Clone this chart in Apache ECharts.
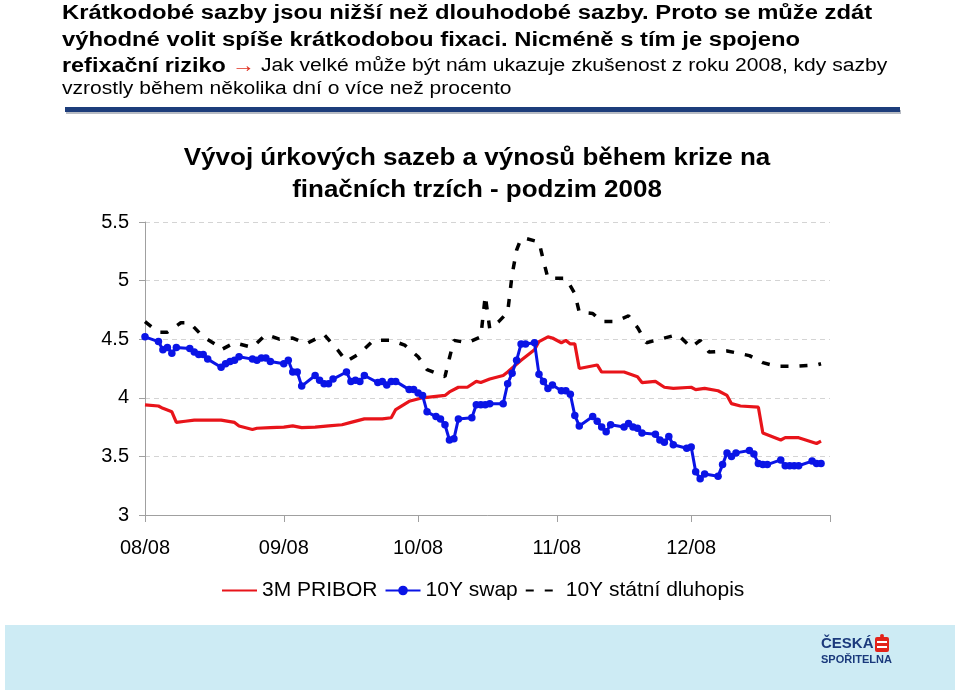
<!DOCTYPE html>
<html>
<head>
<meta charset="utf-8">
<script src="https://cdn.jsdelivr.net/npm/echarts@6/dist/echarts.min.js"></script>
<style>
  html, body { margin: 0; padding: 0; background: #ffffff; }
  #chart { width: 960px; height: 698px; }
</style>
</head>
<body>
<div id="chart"></div>
<script>
// ---------- data ----------
const YEAR = '2008-';
const xTickDates = ['2008-08-01', '2008-09-01', '2008-10-01', '2008-11-01', '2008-12-01', '2009-01-01'];
const xLabelDates = ['2008-08-01', '2008-09-01', '2008-10-01', '2008-11-01', '2008-12-01'];
const xLabels = ['08/08', '09/08', '10/08', '11/08', '12/08'];

const priborDates = ['08-01','08-04','08-05','08-07','08-08','08-10','08-12','08-18','08-21','08-22','08-25','08-26','08-29',
  '09-01','09-03','09-05','09-08','09-11','09-14','09-16','09-19','09-23','09-25','09-26','09-29',
  '10-02','10-07','10-08','10-10','10-12','10-14','10-15','10-17','10-20','10-21','10-24','10-27','10-28','10-30','10-31',
  '11-02','11-03','11-04','11-05','11-06','11-10','11-11','11-16','11-19','11-20','11-23','11-25','11-27',
  '12-01','12-02','12-04','12-07','12-09','12-10','12-12','12-16','12-17','12-21','12-22','12-25','12-29','12-30'];
const priborValues = [3.94,3.93,3.91,3.88,3.79,3.80,3.81,3.81,3.79,3.76,3.73,3.74,3.745,
  3.75,3.76,3.745,3.75,3.76,3.77,3.79,3.82,3.82,3.83,3.90,3.97,
  4.00,4.02,4.05,4.09,4.09,4.14,4.13,4.16,4.19,4.22,4.32,4.41,4.48,4.52,4.51,
  4.47,4.49,4.46,4.46,4.25,4.28,4.22,4.22,4.18,4.13,4.14,4.09,4.08,
  4.09,4.07,4.08,4.06,4.02,3.95,3.93,3.92,3.70,3.64,3.66,3.66,3.61,3.63];

const swapDates = ['08-01','08-04','08-05','08-06','08-07','08-08','08-11','08-12','08-13','08-14','08-15','08-18','08-19','08-20','08-21','08-22','08-25','08-26','08-27','08-28','08-29',
  '09-01','09-02','09-03','09-04','09-05','09-08','09-09','09-10','09-11','09-12','09-15','09-16','09-17','09-18','09-19','09-22','09-23','09-24','09-25','09-26','09-29','09-30',
  '10-01','10-02','10-03','10-05','10-06','10-07','10-08','10-09','10-10','10-13','10-14','10-15','10-16','10-17','10-20','10-21','10-22','10-23','10-24','10-25','10-27','10-28','10-29','10-30','10-31',
  '11-02','11-03','11-04','11-05','11-06','11-09','11-10','11-11','11-12','11-13','11-16','11-17','11-18','11-19','11-20','11-23','11-24','11-25','11-26','11-27','11-30',
  '12-01','12-02','12-03','12-04','12-07','12-08','12-09','12-10','12-11','12-14','12-15','12-16','12-17','12-18','12-21','12-22','12-23','12-24','12-25','12-28','12-29','12-30'];
const swapValues = [4.52,4.48,4.41,4.43,4.38,4.43,4.42,4.39,4.37,4.37,4.33,4.26,4.29,4.31,4.32,4.35,4.33,4.32,4.34,4.34,4.31,
  4.29,4.32,4.22,4.22,4.10,4.19,4.15,4.12,4.12,4.16,4.22,4.14,4.15,4.14,4.19,4.13,4.14,4.11,4.14,4.14,4.07,4.07,
  4.04,4.02,3.88,3.84,3.82,3.77,3.64,3.65,3.82,3.83,3.94,3.94,3.94,3.95,3.95,4.12,4.21,4.32,4.46,4.46,4.47,4.20,4.14,4.08,4.11,
  4.06,4.06,4.03,3.85,3.76,3.84,3.80,3.75,3.71,3.77,3.75,3.78,3.75,3.74,3.70,3.69,3.64,3.62,3.67,3.60,3.57,
  3.58,3.37,3.31,3.35,3.33,3.43,3.53,3.50,3.53,3.55,3.52,3.44,3.43,3.43,3.47,3.42,3.42,3.42,3.42,3.46,3.44,3.44];

const bondDates = ['08-01','08-04','08-06','08-09','08-11','08-14','08-17','08-18','08-21','08-25','08-28','08-31',
  '09-03','09-06','09-10','09-13','09-15','09-18','09-21','09-25','09-28',
  '10-01','10-03','10-07','10-08','10-09','10-12','10-15','10-16','10-17','10-19','10-21','10-22','10-23','10-24','10-25','10-28','10-29','10-30',
  '11-03','11-05','11-06','11-09','11-11','11-14','11-17','11-19','11-21','11-24','11-28',
  '12-01','12-03','12-05','12-09','12-14','12-17','12-20','12-25','12-29','12-30'];
const bondValues = [4.65,4.56,4.56,4.64,4.64,4.52,4.45,4.41,4.47,4.43,4.54,4.50,
  4.51,4.46,4.54,4.41,4.31,4.38,4.49,4.49,4.45,
  4.35,4.24,4.18,4.34,4.49,4.47,4.52,4.87,4.59,4.65,4.73,5.05,5.26,5.36,5.36,5.33,5.17,5.02,
  5.02,4.89,4.73,4.72,4.65,4.65,4.70,4.60,4.47,4.50,4.54,
  4.43,4.49,4.39,4.40,4.36,4.30,4.27,4.27,4.28,4.29];

const seriesNames = ['3M PRIBOR', '10Y swap', '10Y státní dluhopis'];
const yTicks = { min: 3, max: 5.5, interval: 0.5 };

const headerLine1 = 'Krátkodobé sazby jsou nižší než dlouhodobé sazby. Proto se může zdát';
const headerLine2 = 'výhodné volit spíše krátkodobou fixaci. Nicméně s tím je spojeno';
const headerLine3a = 'refixační riziko';
const headerLine3b = 'Jak velké může být nám ukazuje zkušenost z roku 2008, kdy sazby';
const headerLine4 = 'vzrostly během několika dní o více než procento';
const chartTitle = 'Vývoj úrkových sazeb a výnosů během krize na\nfinačních trzích - podzim 2008';

// ---------- build ----------
function ts(d) { return Date.UTC(+d.slice(0, 4), +d.slice(5, 7) - 1, +d.slice(8, 10)); }
function pairs(dates, values) {
  return dates.map((d, i) => [ts(YEAR + d), values[i]]);
}
const labelMap = {};
xLabelDates.forEach((d, i) => { labelMap[ts(d)] = xLabels[i]; });

const FONT = '"Liberation Sans", Arial, sans-serif';
const chart = echarts.init(document.getElementById('chart'));

chart.setOption({
  animation: false,
  backgroundColor: '#ffffff',
  textStyle: { fontFamily: FONT },
  grid: { left: 145, right: 130, top: 222, bottom: 183 },
  xAxis: {
    type: 'value',
    min: ts(xTickDates[0]),
    max: ts(xTickDates[xTickDates.length - 1]),
    axisLine: { show: true, onZero: false, lineStyle: { color: '#a0a0a0', width: 1 } },
    axisTick: { show: true, length: 7, lineStyle: { color: '#a0a0a0' }, customValues: xTickDates.map(ts) },
    axisLabel: {
      customValues: xLabelDates.map(ts),
      fontSize: 20, color: '#000', fontFamily: FONT, margin: 23,
      formatter: function (v) { return labelMap[v] || ''; }
    },
    splitLine: { show: false }
  },
  yAxis: {
    type: 'value',
    min: yTicks.min, max: yTicks.max, interval: yTicks.interval,
    axisLine: { show: true, lineStyle: { color: '#a0a0a0', width: 1 } },
    axisTick: { show: true, length: 6, lineStyle: { color: '#a0a0a0' } },
    axisLabel: { fontSize: 20, color: '#000', fontFamily: FONT, margin: 16 },
    splitLine: { show: true, lineStyle: { color: '#d4d4d4', type: [5, 4], width: 1 } }
  },
  legend: {
    data: [
      { name: seriesNames[0], itemStyle: { opacity: 0 } },
      { name: seriesNames[1] },
      { name: seriesNames[2], itemStyle: { opacity: 0 } }
    ],
    left: 216, top: 575,
    itemWidth: 35, itemHeight: 12, itemGap: 7,
    textStyle: { fontSize: 21, color: '#000', fontFamily: FONT }
  },
  series: [
    {
      name: seriesNames[0], type: 'line', data: pairs(priborDates, priborValues),
      showSymbol: false, symbol: 'none',
      lineStyle: { color: '#e8141a', width: 3.2 }, itemStyle: { color: '#e8141a' }, z: 3
    },
    {
      name: seriesNames[1], type: 'line', data: pairs(swapDates, swapValues),
      symbol: 'circle', symbolSize: 7.5, showSymbol: true,
      lineStyle: { color: '#0a14e6', width: 3 }, itemStyle: { color: '#0a14e6' }, z: 4
    },
    {
      name: seriesNames[2], type: 'line', data: pairs(bondDates, bondValues),
      showSymbol: false, symbol: 'none',
      lineStyle: { color: '#000000', width: 3.5, type: [8, 11] }, itemStyle: { color: '#000' }, z: 2
    }
  ],
  graphic: [
    { type: 'text', x: 62, y: 3, scaleX: 1.19, style: { text: headerLine1, font: 'bold 20px ' + FONT, fill: '#000' } },
    { type: 'text', x: 62, y: 30, scaleX: 1.19, style: { text: headerLine2, font: 'bold 20px ' + FONT, fill: '#000' } },
    { type: 'text', x: 62, y: 56, scaleX: 1.17, style: {
        text: '{b|' + headerLine3a + '} {r|→} ' + headerLine3b,
        font: '18px ' + FONT, fill: '#000',
        rich: {
          b: { font: 'bold 20px ' + FONT, fill: '#000' },
          r: { font: 'bold 20px ' + FONT, fill: '#e03020' }
        }
      } },
    { type: 'text', x: 62, y: 80, scaleX: 1.17, style: { text: headerLine4, font: '18px ' + FONT, fill: '#000' } },
    { type: 'rect', shape: { x: 66, y: 110, width: 835, height: 4 }, style: { fill: '#b8bcc4' } },
    { type: 'rect', shape: { x: 65, y: 107, width: 835, height: 5 }, style: { fill: '#1d3d7b' } },
    { type: 'text', x: 477, y: 143, scaleX: 1.13, style: {
        text: chartTitle, font: 'bold 23px ' + FONT, fill: '#000', align: 'center', lineHeight: 32
      } },
    { type: 'rect', shape: { x: 5, y: 625, width: 950, height: 65 }, style: { fill: '#cdebf4' } },
    { type: 'text', x: 821, y: 636, style: { text: 'ČESKÁ', font: 'bold 15px ' + FONT, fill: '#1b3a7c' } },
    { type: 'rect', shape: { x: 875, y: 637, width: 14, height: 15, r: 2 }, style: { fill: '#e2231a' } },
    { type: 'rect', shape: { x: 877, y: 641, width: 10, height: 2 }, style: { fill: '#ffffff' } },
    { type: 'rect', shape: { x: 877, y: 646, width: 10, height: 2 }, style: { fill: '#ffffff' } },
    { type: 'rect', shape: { x: 880, y: 634, width: 4, height: 4, r: 2 }, style: { fill: '#e2231a' } },
    { type: 'text', x: 821, y: 654, style: { text: 'SPOŘITELNA', font: 'bold 11px ' + FONT, fill: '#1b3a7c' } }
  ]
});
</script>
</body>
</html>
